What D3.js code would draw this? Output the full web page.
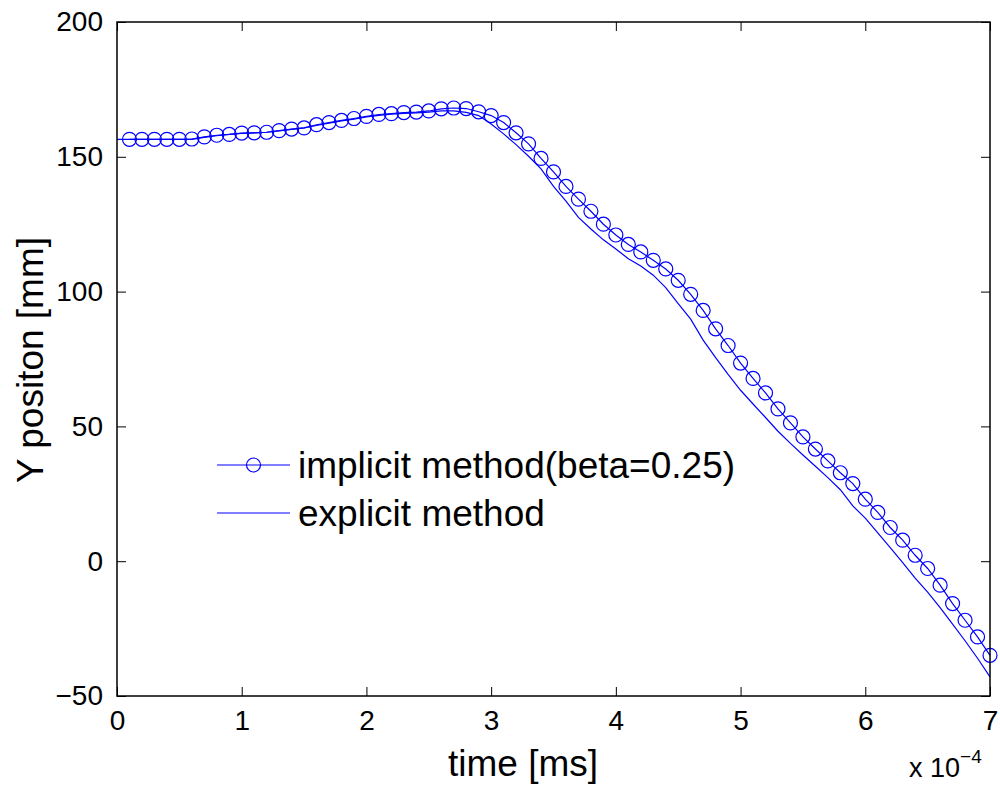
<!DOCTYPE html>
<html>
<head>
<meta charset="utf-8">
<script src="https://cdn.jsdelivr.net/npm/d3@7"></script>
<style>
  body { margin: 0; background: #fff; }
  text { font-family: "Liberation Sans", Arial, sans-serif; fill: #000; }
</style>
</head>
<body>
<script>
// time in units of 1e-4 ms
var implicitT = d3.range(1, 71).map(function(i){ return i / 10; });
var implicitY = [
  156.5, 156.5, 156.5, 156.5, 156.5, 156.6, 157.4, 158.0, 158.3, 158.8,
  158.9, 159.1, 159.7, 160.3, 160.7, 161.9, 162.7, 163.5, 164.2, 165.0,
  165.7, 166.0, 166.4, 166.6, 167.0, 167.8, 168.1, 167.9, 166.7, 165.3,
  162.7, 158.9, 154.8, 149.4, 144.4, 139.0, 134.3, 129.8, 125.0, 121.0,
  117.5, 114.7, 111.6, 108.4, 104.2, 99.0, 93.0, 86.2, 80.0, 73.5,
  67.8, 62.4, 56.5, 51.3, 46.1, 41.6, 37.2, 32.8, 28.8, 23.0,
  18.1, 12.5, 7.8, 2.2, -2.7, -8.9, -15.7, -21.9, -28.1, -34.9
];
var explicitT = d3.range(0, 71).map(function(i){ return i / 10; });
var explicitY = [
  156.5,
  156.5, 156.5, 156.5, 156.5, 156.5, 156.5, 157.2, 157.8, 158.3, 158.7,
  158.9, 159.1, 159.6, 160.2, 160.7, 161.6, 162.5, 163.3, 164.0, 164.8,
  165.4, 165.8, 166.1, 166.3, 166.6, 167.0, 167.0, 166.5, 165.3, 162.2,
  158.5, 154.5, 150.2, 145.5, 139.0, 133.6, 127.5, 123.2, 119.2, 115.8,
  112.2, 109.5, 106.1, 101.5, 95.5, 89.8, 82.0, 75.5, 69.3, 63.4,
  58.3, 53.3, 48.2, 43.7, 39.4, 35.2, 31.0, 26.5, 20.5, 16.0,
  10.5, 5.0, -0.5, -6.3, -11.5, -17.2, -23.3, -29.5, -36.0, -42.9
];
var xTicks = [0, 1, 2, 3, 4, 5, 6, 7];
var yTicks = [-50, 0, 50, 100, 150, 200];
var legendLabels = ["implicit method(beta=0.25)", "explicit method"];

var W = 1000, H = 787;
var m = {left: 117, top: 22, right: 10, bottom: 91};
var blue = "#0000ff";
var fs = 28;      // tick labels
var fsBig = 37;   // axis titles, legend
var r = 7;

var svg = d3.select("body").append("svg")
  .attr("width", W)
  .attr("height", H);

var x = d3.scaleLinear().domain([0, 7]).range([m.left, W - m.right]);
var y = d3.scaleLinear().domain([-50, 200]).range([H - m.bottom, m.top]);

var line = d3.line()
  .x(function(d){ return x(d[0]); })
  .y(function(d){ return y(d[1]); });

var implicitData = d3.zip(implicitT, implicitY);
var explicitData = d3.zip(explicitT, explicitY);

// explicit
svg.append("path")
  .datum(explicitData)
  .attr("d", line)
  .attr("fill", "none")
  .attr("stroke", blue)
  .attr("stroke-width", 1.2);

// implicit
svg.append("path")
  .datum(implicitData)
  .attr("d", line)
  .attr("fill", "none")
  .attr("stroke", blue)
  .attr("stroke-width", 1.2);

svg.append("g")
  .selectAll("circle")
  .data(implicitData)
  .enter().append("circle")
  .attr("cx", function(d){ return x(d[0]); })
  .attr("cy", function(d){ return y(d[1]); })
  .attr("r", r)
  .attr("fill", "none")
  .attr("stroke", blue)
  .attr("stroke-width", 1.2);

// axes, ticks inward on all four sides
var tk = 9;
var noLabel = function(){ return ""; };
var axBottom = d3.axisBottom(x).tickValues(xTicks).tickSizeInner(-tk).tickSizeOuter(0)
  .tickPadding(tk + 5).tickFormat(d3.format("d"));
var axTop = d3.axisTop(x).tickValues(xTicks).tickSizeInner(-tk).tickSizeOuter(0).tickFormat(noLabel);
var axLeft = d3.axisLeft(y).tickValues(yTicks).tickSizeInner(-tk).tickSizeOuter(0).tickPadding(tk + 5)
  .tickFormat(function(d){ return d < 0 ? "\u2212" + Math.abs(d) : d; });
var axRight = d3.axisRight(y).tickValues(yTicks).tickSizeInner(-tk).tickSizeOuter(0).tickFormat(noLabel);

function style_axis(g){
  g.select(".domain").remove();
  g.selectAll(".tick line").attr("stroke", "#000").attr("stroke-width", 1);
  g.selectAll(".tick text")
    .attr("fill", "#000")
    .style("font-size", fs + "px")
    .style("font-family", "'Liberation Sans', Arial, sans-serif");
}

svg.append("g").attr("transform", "translate(0," + y(-50) + ")").call(axBottom).call(style_axis);
svg.append("g").attr("transform", "translate(0," + y(200) + ")").call(axTop).call(style_axis);
svg.append("g").attr("transform", "translate(" + x(0) + ",0)").call(axLeft).call(style_axis);
svg.append("g").attr("transform", "translate(" + x(7) + ",0)").call(axRight).call(style_axis);

// frame
svg.append("rect")
  .attr("x", x(0))
  .attr("y", y(200))
  .attr("width", x(7) - x(0))
  .attr("height", y(-50) - y(200))
  .attr("fill", "none")
  .attr("stroke", "#000")
  .attr("stroke-width", 1.5);

// axis labels
svg.append("text")
  .attr("x", 523)
  .attr("y", 776)
  .attr("text-anchor", "middle")
  .style("font-size", fsBig + "px")
  .text("time [ms]");

var mult = svg.append("text")
  .attr("x", 909)
  .attr("y", 777)
  .style("font-size", "27px");
mult.append("tspan").text("x 10");
mult.append("tspan").attr("dy", -14).style("font-size", "19px").text("\u22124");

svg.append("text")
  .attr("transform", "translate(43," + ((y(200) + y(-50)) / 2 + 1) + ") rotate(-90)")
  .attr("text-anchor", "middle")
  .style("font-size", fsBig + "px")
  .text("Y positon [mm]");

// legend
var leg = svg.append("g").attr("transform", "translate(217,465)");
leg.selectAll("g")
  .data(legendLabels)
  .enter().append("g")
  .attr("transform", function(d, i){ return "translate(0," + (i * 48) + ")"; })
  .each(function(d, i){
    var g = d3.select(this);
    g.append("line")
      .attr("x1", 0).attr("x2", 73)
      .attr("y1", 0).attr("y2", 0)
      .attr("stroke", blue)
      .attr("stroke-width", 1.2);
    if(i === 0){
      g.append("circle")
        .attr("cx", 36.5).attr("cy", 0).attr("r", r)
        .attr("fill", "none")
        .attr("stroke", blue)
        .attr("stroke-width", 1.2);
    }
    g.append("text")
      .attr("x", 81)
      .attr("y", 13)
      .style("font-size", fsBig + "px")
      .text(d);
  });
</script>
</body>
</html>
